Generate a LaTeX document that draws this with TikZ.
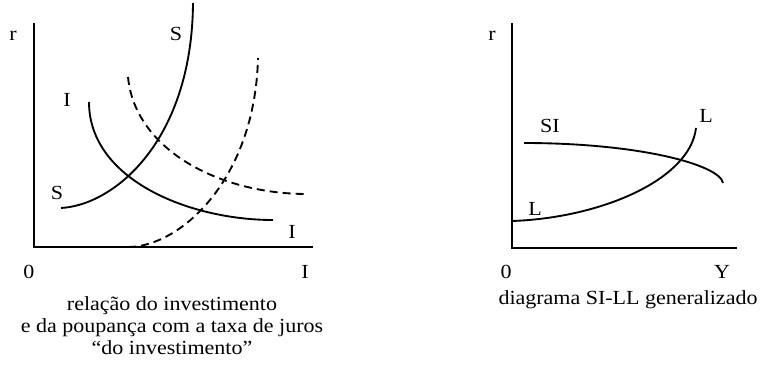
\documentclass[tikz,border=0pt]{standalone}
\usepackage{fontspec}
\setmainfont{Liberation Serif}[FakeStretch=1.1]
\usepackage{xcolor}
\usepackage{tikz}
\usetikzlibrary{positioning}

\begin{document}
\begin{tikzpicture}[
	x = 0.75pt, y = -0.75pt,
	axis/.style = { draw, black, line width = 1.5pt },
	curve/.style = { draw, black, line width = 1.4pt },
	shifted/.style = { draw, black, line width = 1.4pt, dash pattern = on 6pt off 3.8pt },
	lbl/.style = { font = \fontsize{15}{16.5}\selectfont, anchor = base, inner sep = 0pt, outer sep = 0pt },
	caption/.style = { font = \fontsize{15}{16.5}\selectfont, align = center, anchor = north, inner sep = 0pt },
	]
	\useasboundingbox (0,0) rectangle (761,365);

	\coordinate (TopL) at (34,23);
	\coordinate (OrigL) at (34,247);
	\coordinate (EndL) at (313,247);
	\draw[axis] (TopL) -- (OrigL) -- (EndL);

	\coordinate (SStart) at (61,208);
	\coordinate (SEnd) at (193,3);
	\coordinate (IStart) at (89,102);
	\coordinate (IEnd) at (273,220);
	\coordinate (IdStart) at (128,77);
	\coordinate (IdEnd) at (307,194);
	\coordinate (SdStart) at (128,247);
	\coordinate (SdEnd) at (258,58);
	\draw[curve] (SStart) .. controls (115,205) and (192,140) .. (SEnd);
	\draw[curve] (IStart) .. controls (89,180) and (190,220) .. (IEnd);
	\draw[shifted] (IdStart) .. controls (135,150) and (220,194) .. (IdEnd);
	\draw[shifted] (SdStart) .. controls (180,247) and (255,180) .. (SdEnd);

	\node[lbl] (RLabL) at (13,40) {r};
	\node[lbl] (STop) at (176,40) {S};
	\node[lbl] (ITop) at (67,106) {I};
	\node[lbl] (SLow) at (57,199) {S};
	\node[lbl] (ILow) at (292,238) {I};
	\node[lbl] (ZeroL) at (29,278) {0};
	\node[lbl] (AxisI) at (305,278) {I};
	\node[caption] (CapL) at (172,296) {relação do investimento\\e da poupança com a taxa de juros\\“do investimento”};

	\coordinate (TopR) at (512,23);
	\coordinate (OrigR) at (512,248);
	\coordinate (EndR) at (737,248);
	\draw[axis] (TopR) -- (OrigR) -- (EndR);

	\coordinate (SIStart) at (524,143);
	\coordinate (SIEnd) at (723,183);
	\coordinate (LStart) at (512,221);
	\coordinate (LEnd) at (696,128);
	\draw[curve] (SIStart) .. controls (640,143) and (720,165) .. (SIEnd);
	\draw[curve] (LStart) .. controls (600,218) and (690,180) .. (LEnd);

	\node[lbl] (RLabR) at (492,40) {r};
	\node[lbl] (SILab) at (550,132) {SI};
	\node[lbl] (LTop) at (706,122) {L};
	\node[lbl] (LLow) at (535,215) {L};
	\node[lbl] (ZeroR) at (506,278) {0};
	\node[lbl] (AxisY) at (722,278) {Y};
	\node[lbl] (CapR) at (628,304) {diagrama SI-LL generalizado};
\end{tikzpicture}
\end{document}
